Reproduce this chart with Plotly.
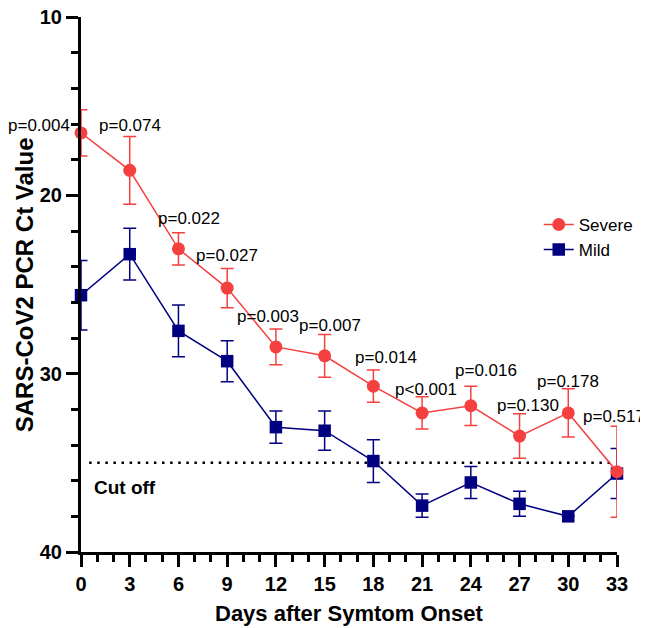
import plotly.graph_objects as go

days = [0, 3, 6, 9, 12, 15, 18, 21, 24, 27, 30, 33]
severe_ct = [16.5, 18.6, 23.0, 25.2, 28.5, 29.0, 30.7, 32.2, 31.8, 33.5, 32.2, 35.5]
severe_err = [1.3, 1.9, 0.9, 1.1, 1.0, 1.2, 0.9, 0.9, 1.1, 1.25, 1.35, 2.55]
mild_ct = [25.6, 23.3, 27.6, 29.3, 33.0, 33.2, 34.9, 37.4, 36.1, 37.3, 38.0, 35.6]
mild_err = [1.95, 1.45, 1.45, 1.15, 0.9, 1.1, 1.2, 0.65, 0.9, 0.7, 0.0, 1.4]

p_labels = ["p=0.004", "p=0.074", "p=0.022", "p=0.027", "p=0.003", "p=0.007",
            "p=0.014", "p<0.001", "p=0.016", "p=0.130", "p=0.178", "p=0.517"]
# label centres in axis units (days, Ct)
p_label_x = [-2.56, 2.99, 6.62, 8.96, 11.51, 15.33, 18.78, 21.27, 24.91, 27.52, 29.99, 32.8]
p_label_y = [16.1, 16.1, 21.3, 23.4, 26.8, 27.3, 29.1, 30.9, 29.85, 31.8, 30.45, 32.4]

cutoff = 35
x_ticks = list(range(0, 34, 3))
y_ticks = [10, 20, 30, 40]
x_range = [0, 33]

RED = "rgb(245,64,64)"
NAVY = "rgb(0,0,128)"
FONT = "Arial, Liberation Sans, sans-serif"

fig = go.Figure()
fig.add_trace(go.Scatter(
    x=days, y=mild_ct, name="Mild", mode="lines+markers",
    line=dict(color=NAVY, width=1.5),
    marker=dict(symbol="square", size=12.5, color=NAVY),
    error_y=dict(type="data", array=mild_err, color=NAVY, thickness=1.5, width=6.5),
    cliponaxis=False,
))
fig.add_trace(go.Scatter(
    x=days, y=severe_ct, name="Severe", mode="lines+markers",
    line=dict(color=RED, width=1.5),
    marker=dict(symbol="circle", size=13, color=RED),
    error_y=dict(type="data", array=severe_err, color=RED, thickness=1.5, width=6.5),
    cliponaxis=False,
))

fig.add_shape(type="line", xref="x", yref="y", x0=0.5, x1=32.8, y0=cutoff, y1=cutoff,
              line=dict(color="black", width=2.5, dash="2.5px,5.6px"), layer="below")

span = x_range[1] - x_range[0]
for t, xx, yy in zip(p_labels, p_label_x, p_label_y):
    # place via paper x so labels outside the day range still show
    fig.add_annotation(x=(xx - x_range[0]) / span, y=yy, xref="paper", yref="y",
                       text=t, showarrow=False,
                       font=dict(family=FONT, size=17, color="black"),
                       xanchor="center", yanchor="middle")

fig.add_annotation(x=2.68, y=36.36, xref="x", yref="y", text="Cut off", showarrow=False,
                   font=dict(family=FONT, size=19, color="black", weight="bold"),
                   xanchor="center", yanchor="middle")

fig.add_annotation(x=0.5, y=-0.115, xref="paper", yref="paper",
                   text="Days after Symtom Onset", showarrow=False,
                   font=dict(family=FONT, size=22, color="black", weight="bold"),
                   xanchor="center", yanchor="middle")
fig.add_annotation(x=-0.105, y=0.5, xref="paper", yref="paper",
                   text="SARS-CoV2 PCR Ct Value", showarrow=False, textangle=-90,
                   font=dict(family=FONT, size=24, color="black", weight="bold"),
                   xanchor="center", yanchor="middle")

axis_common = dict(
    showline=True, linecolor="black", linewidth=3, showgrid=False, zeroline=False,
    ticks="outside", ticklen=12, tickwidth=3, tickcolor="black", automargin=False,
    ticklabeloverflow="allow",
    tickfont=dict(family=FONT, size=20, color="black", weight="bold"),
)

fig.update_xaxes(range=x_range, tickvals=x_ticks, ticktext=[str(v) for v in x_ticks],
                 minor=dict(dtick=1, ticks="outside", ticklen=7, tickwidth=3, tickcolor="black"),
                 **axis_common)
fig.update_yaxes(range=[40, 10], tickvals=y_ticks, ticktext=[str(v) for v in y_ticks],
                 minor=dict(dtick=2, ticks="outside", ticklen=7, tickwidth=3, tickcolor="black"),
                 **axis_common)

# the page body adds an 8px offset, so the figure is 8px smaller with shifted margins
fig.update_layout(
    width=640, height=620,
    margin=dict(l=73, r=31, t=9, b=76),
    plot_bgcolor="white", paper_bgcolor="white",
    font=dict(family=FONT, color="black"),
    legend=dict(x=0.854, y=0.645, xanchor="left", yanchor="top",
                traceorder="reversed", bgcolor="rgba(0,0,0,0)",
                font=dict(family=FONT, size=17, color="black")),
)

fig.write_html("out.html")
